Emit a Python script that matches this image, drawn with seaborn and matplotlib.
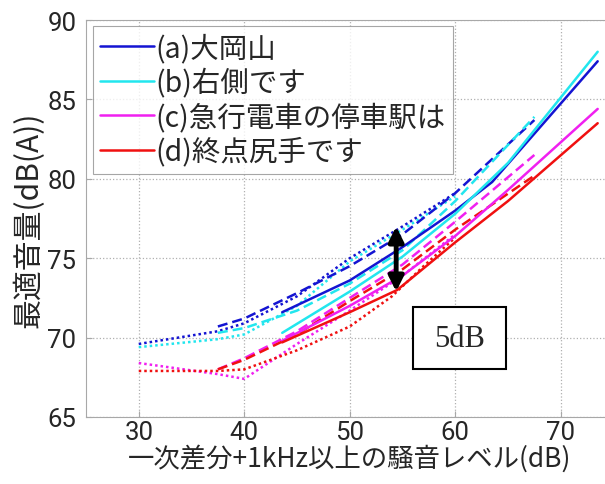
import matplotlib
matplotlib.use('Agg')
import matplotlib.pyplot as plt
from matplotlib.lines import Line2D
from matplotlib.patches import Rectangle
import seaborn as sns
import pandas as pd

# series: site (a)-(d), three measurement conditions each (dotted / dashed / solid)
labels = ['(a)大岡山', '(b)右側です', '(c)急行電車の停車駅は', '(d)終点尻手です']
colors = ['#1414d2', '#22e6ee', '#f020f0', '#f01010']

dot_x = [[30, 37.5, 40, 45, 50, 55, 60],
         [30, 37.5, 40, 45, 50, 55, 60],
         [30, 37.5, 40, 45, 50, 55, 60],
         [30, 37.5, 40, 45, 50, 54, 57, 60]]
dot_y = [[69.6, 70.4, 70.9, 72.6, 75.0, 77.0, 79.1],
         [69.4, 69.9, 70.2, 72.0, 74.8, 76.8, 78.9],
         [68.4, 67.7, 67.4, 69.6, 71.7, 73.9, 76.5],
         [67.9, 67.9, 68.0, 69.2, 70.7, 72.6, 74.5, 76.3]]

dash_x = [[37.5, 40, 45, 50, 55, 60, 67.5],
          [37.5, 40, 45, 50, 55, 60, 67.5],
          [37.5, 40, 45, 50, 55, 60, 67.5],
          [37.5, 40, 45, 50, 55, 60, 67.5]]
dash_y = [[70.7, 71.2, 72.8, 74.5, 76.5, 79.1, 83.7],
          [70.3, 70.6, 71.7, 73.4, 75.5, 78.6, 83.9],
          [68.0, 68.7, 70.4, 72.5, 74.6, 77.3, 81.5],
          [68.0, 68.6, 70.2, 72.3, 74.3, 76.8, 80.2]]

solid_x = [[43.6, 50, 55, 60, 63.5, 73.5],
           [43.6, 50, 55, 60, 65, 73.5],
           [43.6, 50, 55, 60, 65, 73.5],
           [43.6, 50, 54.5, 60, 65, 73.5]]
solid_y = [[71.6, 73.6, 75.7, 78.0, 79.8, 87.4],
           [70.3, 72.9, 75.1, 77.8, 81.0, 88.0],
           [69.8, 72.0, 73.9, 76.4, 79.3, 84.4],
           [69.7, 71.6, 73.0, 76.0, 78.6, 83.5]]

xticks = [30, 40, 50, 60, 70]
yticks = [65, 70, 75, 80, 85, 90]

sns.set_style('ticks')
plt.rcParams['font.family'] = ['Noto Sans CJK JP', 'DejaVu Sans']

fig = plt.figure(figsize=(6.05, 4.85), dpi=100)
ax = fig.add_axes([86 / 605, 67 / 485, 527.5 / 605, 397 / 485])

styles = [(dot_x, dot_y, (0, (1, 1.2))), (dash_x, dash_y, (0, (4, 2))), (solid_x, solid_y, '-')]
for xs, ys, ls in styles:
    for i in range(4):
        df = pd.DataFrame({'x': xs[i], 'y': ys[i]})
        sns.lineplot(data=df, x='x', y='y', color=colors[i], lw=1.8,
                     linestyle=ls, ax=ax, sort=False, legend=False)

ax.set_xlim(25, 75)
ax.set_ylim(65, 90)
ax.set_xticks(xticks)
ax.set_yticks(yticks)
ax.grid(True, linestyle=':', color='#b0b0b0', lw=0.9)
ax.set_axisbelow(True)
for s in ax.spines.values():
    s.set_color('#a8a8a8')
ax.tick_params(direction='in', length=4, color='#a8a8a8', labelsize=18.5, pad=7)
ax.tick_params(axis='x', pad=2)
for t in ax.get_xticklabels() + ax.get_yticklabels():
    t.set_family('Roboto')

ax.set_xlabel('一次差分+1kHz以上の騒音レベル(dB)', fontsize=19, labelpad=0)
ax.set_ylabel('最適音量(dB(A))', fontsize=21.5, labelpad=2)

# 5 dB arrow and note box
ax.annotate('', xy=(54.4, 77.0), xytext=(54.4, 72.9),
            arrowprops=dict(arrowstyle='<|-|>', lw=3.5, color='black', mutation_scale=22,
                            shrinkA=0, shrinkB=0))
ax.add_patch(Rectangle((56.0, 68.0), 8.8, 3.9, fc='white', ec='black', lw=1.5, zorder=5))
ax.text(60.4, 69.95, '5dB', fontsize=22, family='Liberation Serif',
        ha='center', va='center', zorder=6)

handles = [Line2D([], [], color=c, lw=1.8) for c in colors]
leg = ax.legend(handles, labels, loc='upper left', bbox_to_anchor=(0.013, 0.985),
                borderaxespad=0, fontsize=20.5, frameon=True, fancybox=False,
                handlelength=1.9, handletextpad=0.05, labelspacing=0.16,
                borderpad=0.25)
leg.get_frame().set_edgecolor('#909090')
leg.get_frame().set_linewidth(0.8)

fig.savefig('out.png', dpi=100)
